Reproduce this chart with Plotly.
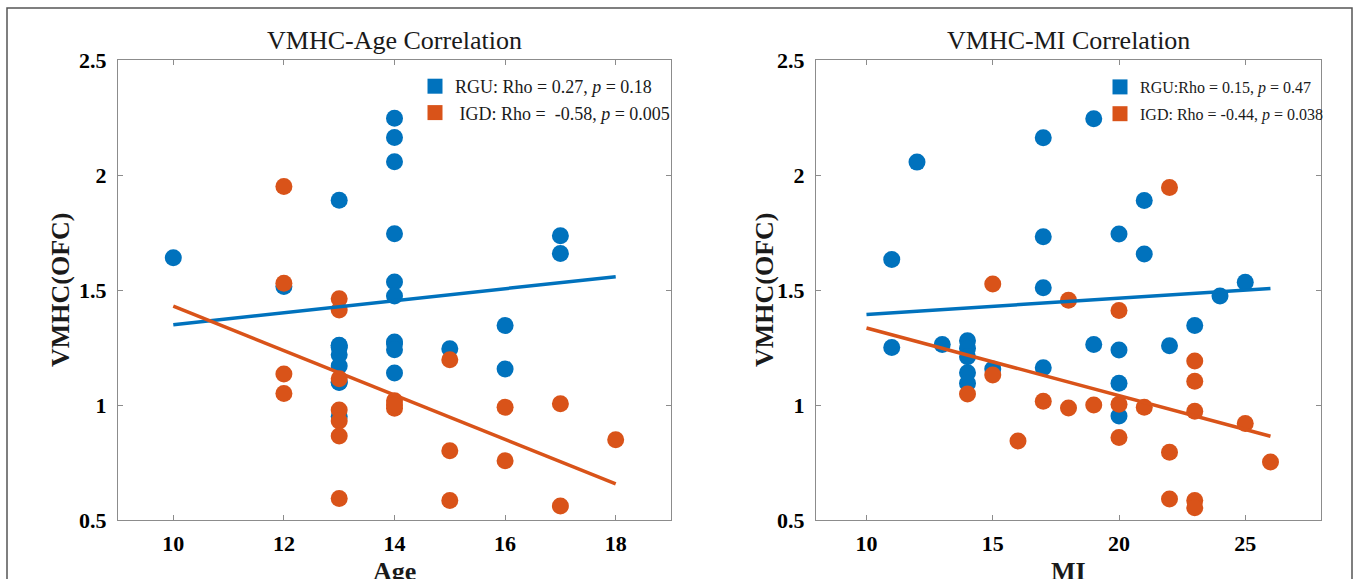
import plotly.graph_objects as go

W, H = 1358, 579
BLUE = '#0072BD'
ORANGE = '#D95319'
FONT = 'Liberation Serif'

# ---- Left panel: VMHC vs Age ----
age_rgu = [10, 12, 13, 13, 13, 13, 13, 13, 13, 13, 13,
           14, 14, 14, 14, 14, 14, 14, 14, 14, 14,
           15, 16, 16, 17, 17]
vmhc_age_rgu = [1.64, 1.515, 1.89, 1.258, 1.218, 1.17, 1.098, 0.95, 1.25, 1.10, 1.26,
                2.247, 2.163, 2.058, 1.745, 1.535, 1.474, 1.274, 1.266, 1.139, 1.24,
                1.245, 1.346, 1.157, 1.736, 1.659]
age_igd = [12, 12, 12, 12, 13, 13, 13, 13, 13, 13, 13,
           14, 14, 14, 15, 15, 15, 16, 16, 17, 17, 18]
vmhc_age_igd = [1.95, 1.529, 1.135, 1.05, 1.462, 1.413, 1.114, 0.978, 0.93, 0.865, 0.593,
                1.018, 0.986, 1.0, 1.197, 0.801, 0.585, 0.99, 0.758, 1.005, 0.561, 0.849]
fit_age_x = [10, 18]
fit_age_rgu = [1.349, 1.558]
fit_age_igd = [1.43, 0.657]

# ---- Right panel: VMHC vs MI ----
mi_rgu = [11, 11, 12, 13, 14, 14, 14, 14, 14, 15, 17, 17, 17, 17,
          19, 19, 20, 20, 20, 20, 21, 21, 22, 23, 24, 25]
vmhc_mi_rgu = [1.633, 1.25, 2.056, 1.263, 1.279, 1.247, 1.21, 1.14, 1.095, 1.156,
               2.162, 1.732, 1.51, 1.162, 2.245, 1.263, 1.743, 1.239, 1.095, 0.952,
               1.889, 1.657, 1.258, 1.346, 1.474, 1.534]
mi_igd = [14, 15, 15, 16, 17, 18, 18, 19, 20, 20, 20, 21, 22, 22, 22,
          23, 23, 23, 23, 23, 25, 26]
vmhc_mi_igd = [1.048, 1.526, 1.130, 0.843, 1.016, 1.455, 0.987, 1.0, 1.411, 1.003, 0.859,
               0.99, 1.946, 0.795, 0.591, 1.191, 1.103, 0.973, 0.585, 0.553, 0.92, 0.752]
fit_mi_x = [10, 26]
fit_mi_rgu = [1.394, 1.507]
fit_mi_igd = [1.335, 0.864]

titles = ['VMHC-Age Correlation', 'VMHC-MI Correlation']
xtitles = ['Age', 'MI']
ytitle = 'VMHC(OFC)'
legend_age = ['RGU: Rho = 0.27, <i>p</i> = 0.18', '\u00a0IGD: Rho =\u00a0\u00a0-0.58, <i>p</i> = 0.005']
legend_mi = ['RGU:Rho = 0.15, <i>p</i> = 0.47', 'IGD: Rho = -0.44, <i>p</i> = 0.038']
x_ticks_age = [10, 12, 14, 16, 18]
x_ticks_mi = [10, 15, 20, 25]
y_ticks = [0.5, 1, 1.5, 2, 2.5]
y_ticklabels = ['0.5', '1', '1.5', '2', '2.5']


def px(x):
    return x / W


def py(y):
    return 1 - y / H


fig = go.Figure()

panels = [
    ('x', 'y', age_rgu, vmhc_age_rgu, age_igd, vmhc_age_igd, fit_age_x, fit_age_rgu, fit_age_igd, legend_age, 'legend'),
    ('x2', 'y2', mi_rgu, vmhc_mi_rgu, mi_igd, vmhc_mi_igd, fit_mi_x, fit_mi_rgu, fit_mi_igd, legend_mi, 'legend2'),
]
for xa, ya, xr, yr, xi, yi, fx, fr, fi, leg, lg in panels:
    fig.add_trace(go.Scatter(x=xr, y=yr, mode='markers', xaxis=xa, yaxis=ya, showlegend=False,
                             marker=dict(color=BLUE, size=17, line=dict(width=0))))
    fig.add_trace(go.Scatter(x=xi, y=yi, mode='markers', xaxis=xa, yaxis=ya, showlegend=False,
                             marker=dict(color=ORANGE, size=17, line=dict(width=0))))
    fig.add_trace(go.Scatter(x=fx, y=fr, mode='lines', xaxis=xa, yaxis=ya, showlegend=False,
                             line=dict(color=BLUE, width=3.5)))
    fig.add_trace(go.Scatter(x=fx, y=fi, mode='lines', xaxis=xa, yaxis=ya, showlegend=False,
                             line=dict(color=ORANGE, width=3.5)))
    for name, col, grp in [(leg[0], BLUE, lg + 'a'), (leg[1], ORANGE, lg + 'b')]:
        fig.add_trace(go.Scatter(x=[None], y=[None], mode='markers', xaxis=xa, yaxis=ya,
                                 name=name, legend=lg, legendgroup=grp,
                                 marker=dict(symbol='square', size=15, color=col)))

axis_common = dict(showline=True, linecolor='#8c8c8c', linewidth=1, mirror='ticks',
                   ticks='inside', ticklen=5, tickcolor='#8c8c8c', showgrid=False,
                   zeroline=False, automargin=False,
                   tickfont=dict(family=FONT, size=22, color='black', weight='bold'))

yd = [py(520), py(60)]
fig.update_layout(
    width=W, height=H, autosize=False,
    margin=dict(l=0, r=0, t=0, b=0, autoexpand=False),
    paper_bgcolor='white', plot_bgcolor='white',
    xaxis=dict(domain=[px(118), px(671)], range=[9, 19], tickvals=x_ticks_age,
               anchor='y', ticklabelstandoff=4, **axis_common),
    yaxis=dict(domain=yd, range=[0.5, 2.5], tickvals=y_ticks, ticktext=y_ticklabels,
               anchor='x', ticklabelstandoff=6, **axis_common),
    xaxis2=dict(domain=[px(816), px(1321)], range=[8, 28], tickvals=x_ticks_mi,
                anchor='y2', ticklabelstandoff=4, **axis_common),
    yaxis2=dict(domain=yd, range=[0.5, 2.5], tickvals=y_ticks, ticktext=y_ticklabels,
                anchor='x2', ticklabelstandoff=6, **axis_common),
    legend=dict(x=px(415), y=py(68), xanchor='left', yanchor='top',
                bgcolor='rgba(0,0,0,0)', font=dict(family=FONT, size=18, color='#1a1a1a'),
                tracegroupgap=0),
    legend2=dict(x=px(1100), y=py(70), xanchor='left', yanchor='top',
                 bgcolor='rgba(0,0,0,0)', font=dict(family=FONT, size=16, color='#1a1a1a'),
                 tracegroupgap=3),
    shapes=[dict(type='rect', xref='paper', yref='paper', x0=px(7), x1=px(1352),
                 y0=-0.05, y1=py(8), line=dict(color='#555555', width=1.5))],
)

centers = [(118 + 671) / 2, (816 + 1321) / 2]
ylab_x = [60, 764]
for i in range(2):
    fig.add_annotation(text=titles[i], xref='paper', yref='paper', x=px(centers[i]), y=py(57),
                       xanchor='center', yanchor='bottom', showarrow=False,
                       font=dict(family=FONT, size=26, color='#1a1a1a'))
    fig.add_annotation(text='<b>' + xtitles[i] + '</b>', xref='paper', yref='paper',
                       x=px(centers[i]), y=py(571), xanchor='center', yanchor='middle',
                       showarrow=False, font=dict(family=FONT, size=26, color='#1a1a1a'))
    fig.add_annotation(text='<b>' + ytitle + '</b>', xref='paper', yref='paper',
                       x=px(ylab_x[i]), y=py(290), xanchor='center', yanchor='middle',
                       textangle=-90, showarrow=False,
                       font=dict(family=FONT, size=26, color='#1a1a1a'))

fig.write_html('out.html', config={'displayModeBar': False},
               post_script="document.body.style.margin='0';document.body.style.overflow='hidden';")
